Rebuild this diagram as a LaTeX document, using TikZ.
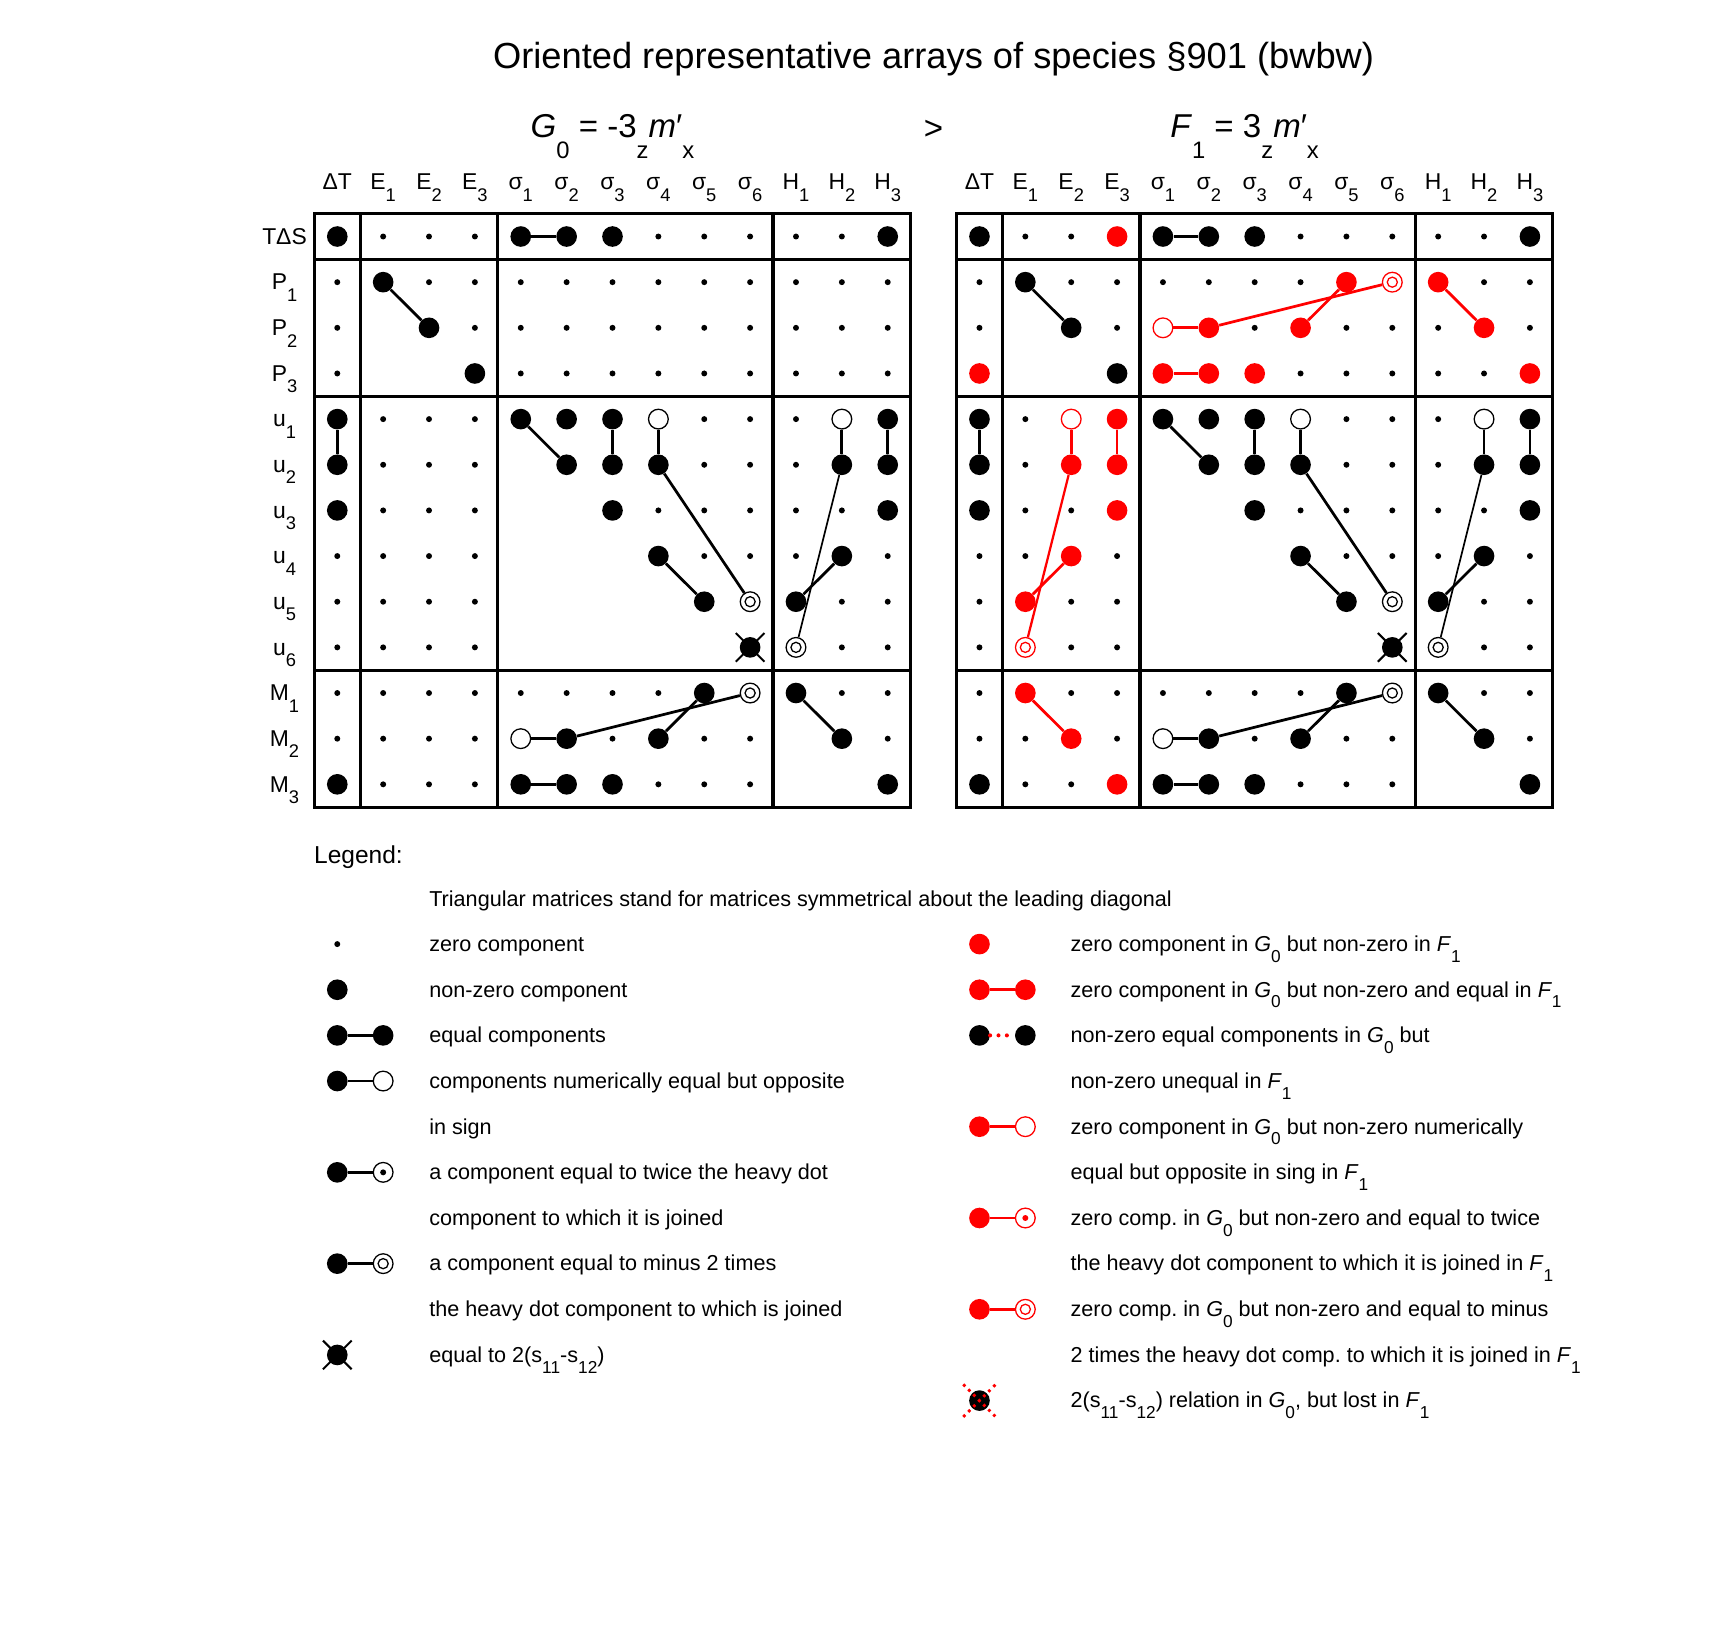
\documentclass[tikz,border=0pt]{standalone}
\usepackage{fontspec}
\setmainfont{Liberation Sans}
\usepackage{graphicx}
\usetikzlibrary{shapes.misc}
\frenchspacing

\newcommand{\sub}[2][0.5em]{\raisebox{-#1}{\scalebox{0.8}{#2}}}
\newcommand{\bigsub}[1]{\raisebox{-0.62em}{\scalebox{0.72}{#1}}}

\tikzset{
  zc/.style={circle, fill=#1, inner sep=0pt, minimum size=0.13cm},
  zc/.default=black,
  nz/.style={circle, fill=#1, inner sep=0pt, minimum size=0.45cm},
  nz/.default=black,
  oc/.style={circle, draw=#1, fill=white, line width=0.8pt, inner sep=0pt, minimum size=0.43cm},
  oc/.default=black,
  tw/.style={oc=#1, path picture={\fill[#1] (path picture bounding box.center) circle (0.065cm);}},
  tw/.default=black,
  mt/.style={oc=#1, path picture={\draw[#1, line width=0.8pt] (path picture bounding box.center) circle (0.11cm);}},
  mt/.default=black,
  xo/.style={cross out, draw=#1, line width=1.3pt, inner sep=0pt, minimum size=0.58cm},
  xo/.default=black,
  dotx/.style={xo=red, line width=2.4pt, line cap=round, dash pattern=on 0pt off 4.4pt},
  link/.style={line width=1.7pt},
  thinlink/.style={line width=1.05pt},
  dotlink/.style={red, line width=2.5pt, line cap=round, dash pattern=on 0pt off 5.2pt},
  tabframe/.style={line width=2pt},
  lbl/.style={font=\fontsize{14.2}{17}\selectfont, inner sep=0pt, anchor=base},
  ltext/.style={font=\fontsize{13.4}{16}\selectfont, inner sep=0pt, anchor=base west},
}

\begin{document}
\begin{tikzpicture}[x=1cm, y=-0.9952cm]
  \useasboundingbox (-7.353,-5.181) rectangle (30.035,30.44);

  % Title and the two groups
  \node[anchor=base, inner sep=0pt, font=\fontsize{22.5}{27}\selectfont] (title) at (13.0,-3.69) {Oriented representative arrays of species §901 (bwbw)};
  \node[anchor=base, inner sep=0pt, font=\fontsize{20.5}{25}\selectfont] (gnot) at (6.0,-2.16) {\textit{G}\bigsub{0} = -3\bigsub{z}\textit{m}′\bigsub{x}};
  \node[anchor=base, inner sep=0pt, font=\fontsize{20.5}{25}\selectfont] (gt) at (13.0,-2.12) {>};
  \node[anchor=base, inner sep=0pt, font=\fontsize{20.5}{25}\selectfont] (fnot) at (19.78,-2.16) {\textit{F}\bigsub{1} = 3\bigsub{z}\textit{m}′\bigsub{x}};

  % Column and row headings
  \foreach \t/\dx in {L/0, R/14} {
    \foreach \h [count=\i from 0] in {ΔT, E\sub{1}, E\sub{2}, E\sub{3}, σ\sub{1}, σ\sub{2}, σ\sub{3}, σ\sub{4}, σ\sub{5}, σ\sub{6}, H\sub{1}, H\sub{2}, H\sub{3}}
      \node[lbl] (\t h\i) at (\i+\dx,-1.02) {\h};
  }
  \foreach \r [count=\j from 0] in {TΔS, P\sub{1}, P\sub{2}, P\sub{3}, u\sub{1}, u\sub{2}, u\sub{3}, u\sub{4}, u\sub{5}, u\sub{6}, M\sub{1}, M\sub{2}, M\sub{3}}
    \node[lbl] (row\j) at (-1.15,\j+0.17) {\r};

  % Frames of the two arrays
  \foreach \dx in {0,14} {
    \draw[tabframe] (\dx-0.5,-0.5) rectangle (\dx+12.5,12.5);
    \foreach \c in {0.5,3.5,9.5} {
      \draw[tabframe] (\dx+\c,-0.5) -- (\dx+\c,12.5);
      \draw[tabframe] (\dx-0.5,\c) -- (\dx+12.5,\c);
    }
  }

  % Zero components (lower triangles of the diagonal blocks stay empty)
  \foreach \t/\dx in {L/0, R/14}
    \foreach \j in {0,...,12}
      \foreach \i in {0,...,12} {
        \pgfmathtruncatemacro\bi{(\i>0)+(\i>3)+(\i>9)}
        \pgfmathtruncatemacro\bj{(\j>0)+(\j>3)+(\j>9)}
        \pgfmathtruncatemacro\blank{(\j>\i)*(\bi==\bj)}
        \ifnum\blank=0 \node[zc] (\t\j-\i) at (\i+\dx,\j) {}; \fi
      }

  % Components shared by both arrays
  \foreach \t/\dx in {L/0, R/14} {
    \foreach \j/\i in {0/0, 0/4, 0/5, 0/6, 0/12, 1/1, 2/2, 3/3, 4/0, 4/4, 4/5, 4/6, 4/12,
                       5/0, 5/5, 5/6, 5/7, 5/11, 5/12, 6/0, 6/6, 6/12, 7/7, 7/11, 8/8, 8/10,
                       9/9, 10/8, 10/10, 11/5, 11/7, 11/11, 12/0, 12/4, 12/5, 12/6, 12/12}
      \node[nz] (\t\j-\i) at (\i+\dx,\j) {};
    \foreach \j/\i in {4/7, 4/11, 11/4}
      \node[oc] (\t\j-\i) at (\i+\dx,\j) {};
    \foreach \j/\i in {8/9, 9/10, 10/9}
      \node[mt] (\t\j-\i) at (\i+\dx,\j) {};
    \node[xo] (\t9-9x) at (\t9-9) {};
    \foreach \a/\b in {0-4/0-5, 1-1/2-2, 4-0/5-0, 4-4/5-5, 4-6/5-6, 4-7/5-7, 5-7/8-9, 7-7/8-8,
                       4-11/5-11, 4-12/5-12, 7-11/8-10, 10-8/11-7, 11-4/11-5, 11-5/10-9,
                       10-10/11-11, 12-4/12-5}
      \draw[link] (\t\a) -- (\t\b);
    \draw[thinlink] (\t5-11) -- (\t9-10);
  }

  % Components that become non-zero in F1
  \foreach \j/\i in {0/3, 1/8, 1/10, 2/5, 2/7, 2/11, 3/0, 3/4, 3/5, 3/6, 3/12, 4/3, 5/2, 5/3,
                     6/3, 7/2, 8/1, 10/1, 11/2, 12/3}
    \node[nz=red] (R\j-\i) at (\i+14,\j) {};
  \node[oc=red] (R2-4) at (18,2) {};
  \node[oc=red] (R4-2) at (16,4) {};
  \node[mt=red] (R1-9) at (23,1) {};
  \node[mt=red] (R9-1) at (15,9) {};
  \foreach \a/\b in {2-4/2-5, 2-5/1-9, 2-7/1-8, 1-10/2-11, 3-4/3-5, 4-2/5-2, 4-3/5-3, 7-2/8-1, 10-1/11-2}
    \draw[link, red] (R\a) -- (R\b);
  \draw[red, line width=1.4pt] (R9-1) -- (R5-2);

  % Legend
  \node[anchor=base west, inner sep=0pt, font=\fontsize{15.2}{18}\selectfont] (legend) at (-0.51,13.74) {Legend:};
  \node[ltext] (note) at (2,14.68) {Triangular matrices stand for matrices symmetrical about the leading diagonal};

  \node[zc] (ka) at (0,15.5) {};
  \node[nz] (kb) at (0,16.5) {};
  \node[nz] (kc1) at (0,17.5) {};
  \node[nz] (kc2) at (1,17.5) {};
  \draw[link] (kc1) -- (kc2);
  \node[nz] (kd1) at (0,18.5) {};
  \node[oc] (kd2) at (1,18.5) {};
  \draw[link] (kd1) -- (kd2);
  \node[nz] (ke1) at (0,20.5) {};
  \node[tw] (ke2) at (1,20.5) {};
  \draw[link] (ke1) -- (ke2);
  \node[nz] (kf1) at (0,22.5) {};
  \node[mt] (kf2) at (1,22.5) {};
  \draw[link] (kf1) -- (kf2);
  \node[nz] (kg) at (0,24.5) {};
  \node[xo] (kgx) at (kg) {};
  \foreach \txt [count=\n from 0] in {zero component, non-zero component, equal components,
      components numerically equal but opposite, in sign, a component equal to twice the heavy dot,
      component to which it is joined, a component equal to minus 2 times,
      the heavy dot component to which is joined, equal to 2(s\sub{11}-s\sub{12})}
    \node[ltext] (kt\n) at (2,15.66+\n) {\txt};

  \node[nz=red] (qa) at (14,15.5) {};
  \node[nz=red] (qb1) at (14,16.5) {};
  \node[nz=red] (qb2) at (15,16.5) {};
  \draw[link, red] (qb1) -- (qb2);
  \node[nz] (qc1) at (14,17.5) {};
  \node[nz] (qc2) at (15,17.5) {};
  \draw[dotlink] (qc1) -- (qc2);
  \node[nz=red] (qd1) at (14,19.5) {};
  \node[oc=red] (qd2) at (15,19.5) {};
  \draw[link, red] (qd1) -- (qd2);
  \node[nz=red] (qe1) at (14,21.5) {};
  \node[tw=red] (qe2) at (15,21.5) {};
  \draw[link, red] (qe1) -- (qe2);
  \node[nz=red] (qf1) at (14,23.5) {};
  \node[mt=red] (qf2) at (15,23.5) {};
  \draw[link, red] (qf1) -- (qf2);
  \node[nz] (qg) at (14,25.5) {};
  \node[dotx] (qgx) at (qg) {};
  \foreach \txt [count=\n from 0] in {zero component in \textit{G}\sub{0} but non-zero in \textit{F}\sub{1},
      zero component in \textit{G}\sub{0} but non-zero and equal in \textit{F}\sub{1},
      non-zero equal components in \textit{G}\sub{0} but,
      non-zero unequal in \textit{F}\sub{1},
      zero component in \textit{G}\sub{0} but non-zero numerically,
      equal but opposite in sing in \textit{F}\sub{1},
      zero comp. in \textit{G}\sub{0} but non-zero and equal to twice,
      the heavy dot component to which it is joined in \textit{F}\sub{1},
      zero comp. in \textit{G}\sub{0} but non-zero and equal to minus,
      2 times the heavy dot comp. to which it is joined in \textit{F}\sub{1},
      {2(s\sub{11}-s\sub{12}) relation in \textit{G}\sub{0}, but lost in \textit{F}\sub{1}}}
    \node[ltext] (qt\n) at (15.98,15.66+\n) {\txt};
\end{tikzpicture}
\end{document}
